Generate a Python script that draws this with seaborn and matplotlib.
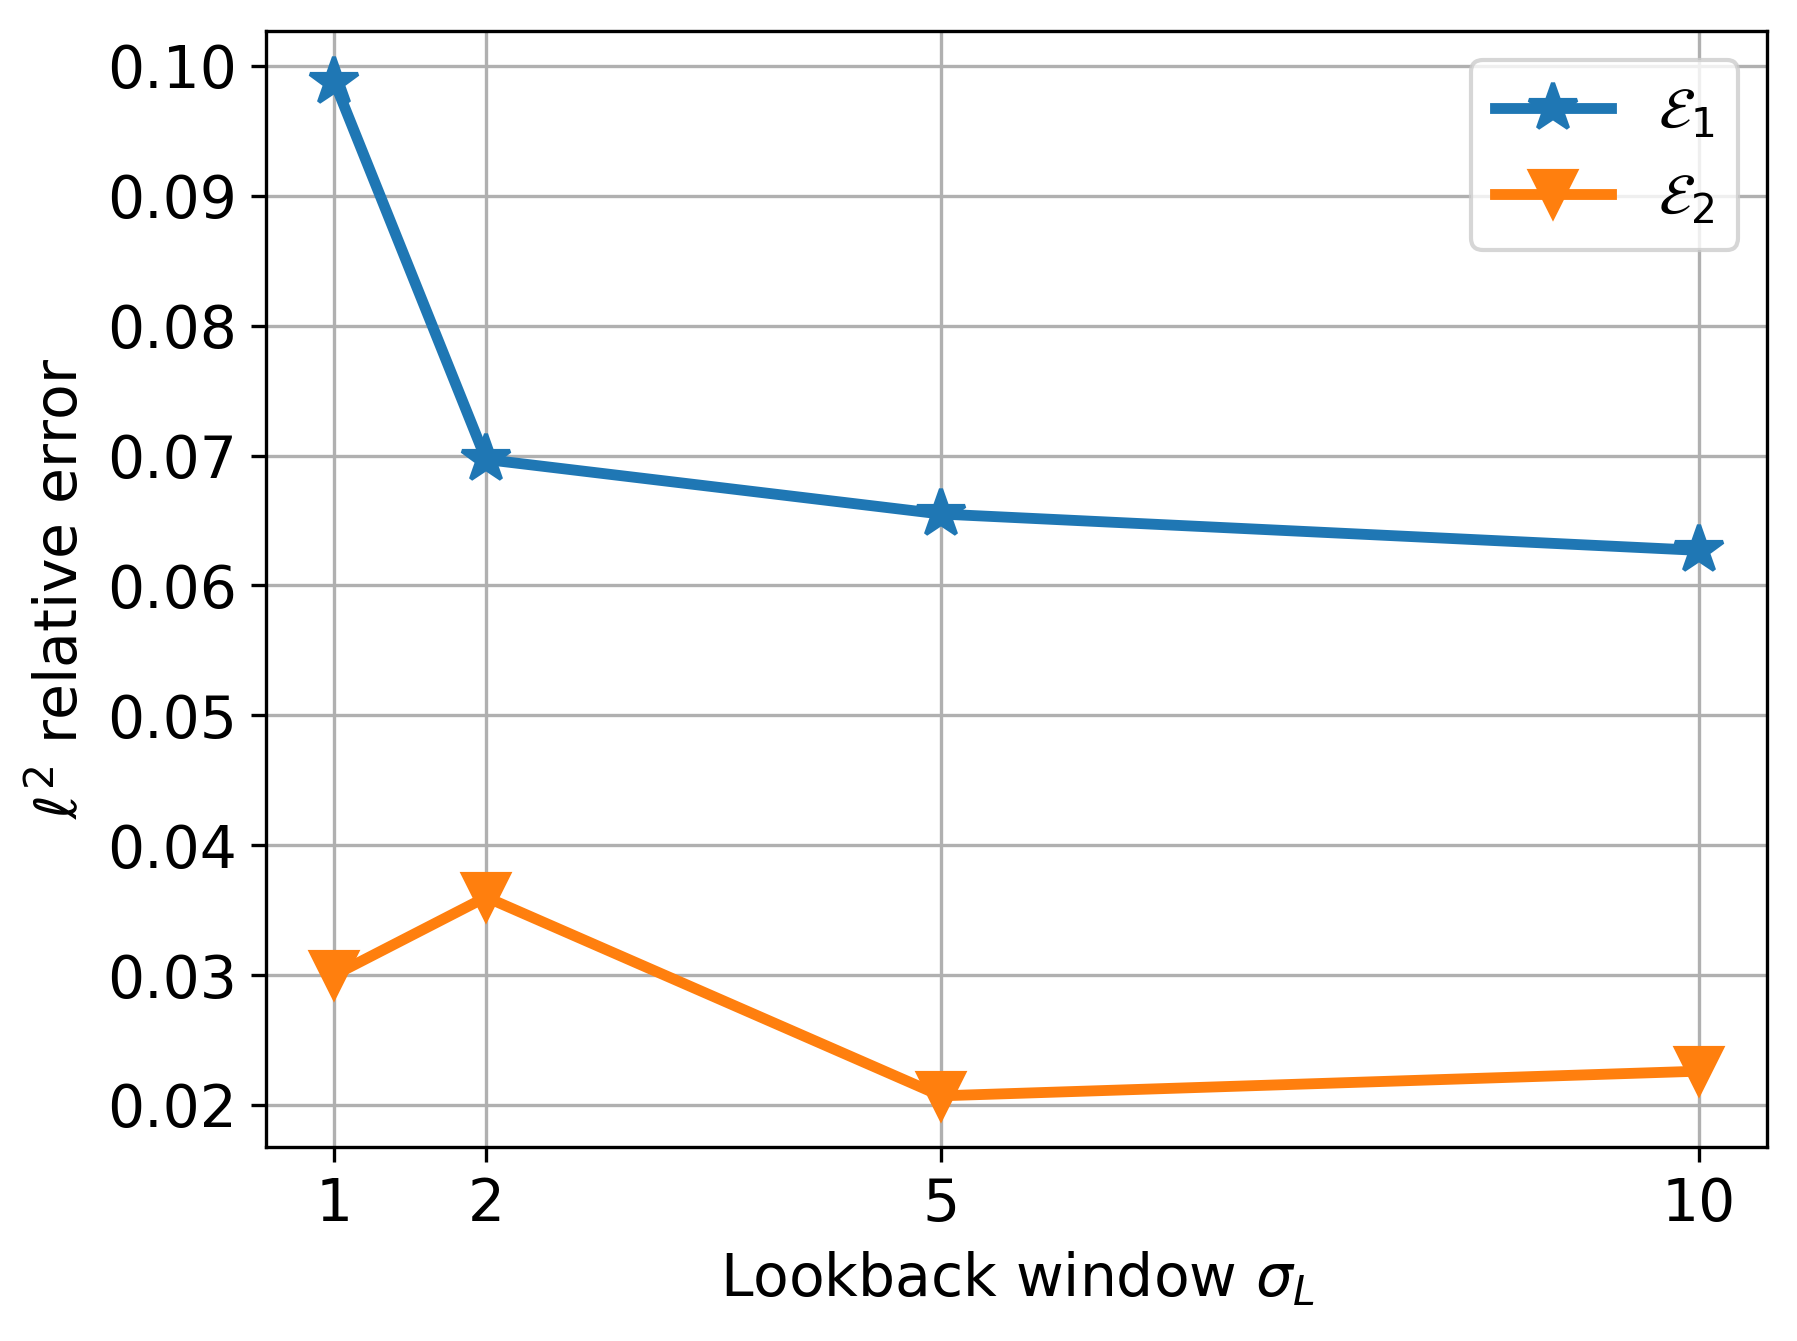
import numpy as np
import pandas as pd

import matplotlib
matplotlib.use('Agg')
import matplotlib.pyplot as plt
import seaborn as sns

# data
lookback = [1, 2, 5, 10]
err_1 = [0.0988, 0.0697, 0.0655, 0.0627]
err_2 = [0.0300, 0.0360, 0.0207, 0.0226]

plt.rc('font', size=14)
plt.rcParams['font.family'] = ['DejaVu Sans']

fig, ax = plt.subplots(figsize=(5.993, 4.47), dpi=300)

sns.lineplot(x=lookback, y=err_1, ax=ax, color='tab:blue', marker='*',
             markersize=12, markeredgewidth=1, markeredgecolor='tab:blue',
             linewidth=2.6, label=r'$\mathcal{E}_1$')
sns.lineplot(x=lookback, y=err_2, ax=ax, color='tab:orange', marker='v',
             markersize=11, markeredgewidth=1, markeredgecolor='tab:orange',
             linewidth=2.6, label=r'$\mathcal{E}_2$')

ax.set_xticks(lookback)
ax.set_yticks([0.02, 0.03, 0.04, 0.05, 0.06, 0.07, 0.08, 0.09, 0.10])
ax.yaxis.set_major_formatter(matplotlib.ticker.FormatStrFormatter('%.2f'))
ax.grid(True, color='#b0b0b0', linewidth=0.8)
ax.set_axisbelow(True)
ax.set_xlabel(r'Lookback window $\sigma_L$')
ax.set_ylabel(r'$\ell^2$ relative error')
ax.legend(loc='upper right', fontsize=14)

fig.subplots_adjust(left=0.148, right=0.983, bottom=0.145, top=0.977)
fig.savefig('out.png', dpi=300)
